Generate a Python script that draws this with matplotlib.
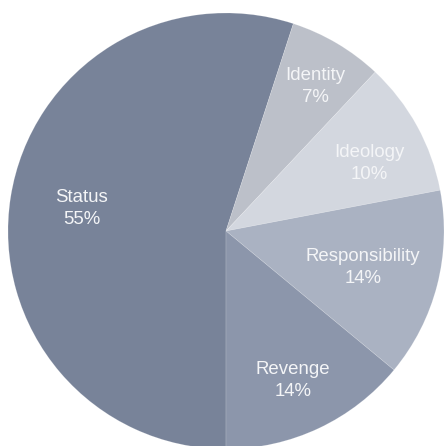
import numpy as np
import matplotlib
matplotlib.use("Agg")
import matplotlib.pyplot as plt

categories = ["Status", "Identity", "Ideology", "Responsibility", "Revenge"]
shares = [55, 7, 10, 14, 14]
colors = ["#788399", "#bcc0c9", "#d3d7df", "#aab2c2", "#8c96ab"]

# label placement: radial distance plus a small pixel nudge (dx, dy)
label_radius = [0.67, 0.795, 0.73, 0.645, 0.74]
label_nudge = [(0, 0), (1, -5), (4, -9), (1, -1.5), (-2, -3.5)]

plt.rcParams["font.family"] = ["Liberation Sans", "DejaVu Sans"]

R_PX = 218.0

fig = plt.figure(figsize=(4.44, 4.46), dpi=100)
ax = fig.add_axes([0, 0, 1, 1])

wedges, _ = ax.pie(
    shares,
    colors=colors,
    startangle=270,
    counterclock=False,
    radius=1.0,
    wedgeprops=dict(edgecolor=(1, 1, 1, 0.2), linewidth=0.5),
)

for w, name, val, r, (ndx, ndy) in zip(wedges, categories, shares,
                                       label_radius, label_nudge):
    mid = np.deg2rad((w.theta1 + w.theta2) / 2)
    x = r * np.cos(mid) + ndx / R_PX
    y = r * np.sin(mid) + ndy / R_PX
    ax.text(x, y, f"{name}\n{val}%", ha="center", va="center",
            color="#f4f5f7", fontsize=13.4, linespacing=1.38)

ax.set_xlim(-226 / R_PX, 218 / R_PX)
ax.set_ylim(-215 / R_PX, 231 / R_PX)
ax.set_aspect("equal")
ax.axis("off")

fig.savefig("out.png", dpi=100)
